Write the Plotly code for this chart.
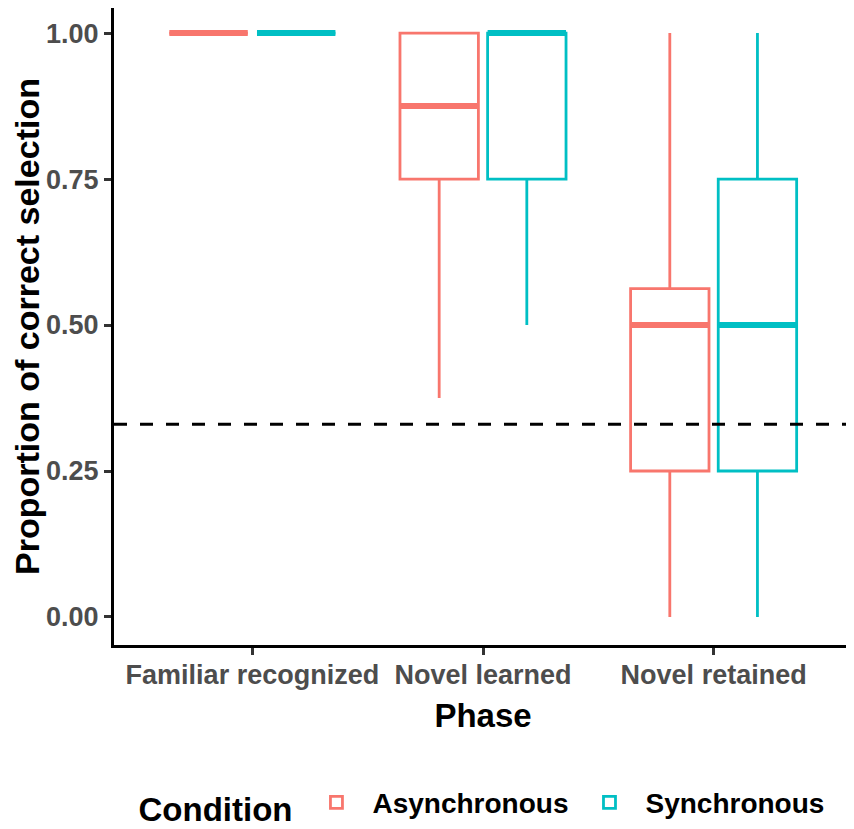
import plotly.graph_objects as go

# Summary statistics
phases = ["Familiar recognized", "Novel learned", "Novel retained"]
conditions = ["Asynchronous", "Synchronous"]
colors = {"Asynchronous": "#F8766D", "Synchronous": "#00BFC4"}

lower = {"Asynchronous": [1.0, 0.375, 0.0], "Synchronous": [1.0, 0.5, 0.0]}
q1 = {"Asynchronous": [1.0, 0.75, 0.25], "Synchronous": [1.0, 0.75, 0.25]}
median = {"Asynchronous": [1.0, 0.875, 0.5], "Synchronous": [1.0, 1.0, 0.5]}
q3 = {"Asynchronous": [1.0, 1.0, 0.5625], "Synchronous": [1.0, 1.0, 0.75]}
upper = {"Asynchronous": [1.0, 1.0, 1.0], "Synchronous": [1.0, 1.0, 1.0]}

chance = 0.33

offsets = {"Asynchronous": -0.19, "Synchronous": 0.19}
box_w = 0.34

fig = go.Figure()

for cond in conditions:
    xs = [i + offsets[cond] for i in range(len(phases))]
    fig.add_trace(go.Box(
        x=xs,
        q1=q1[cond], median=median[cond], q3=q3[cond],
        lowerfence=lower[cond], upperfence=upper[cond],
        width=box_w,
        whiskerwidth=0,
        line=dict(color=colors[cond], width=2.8),
        fillcolor="rgba(255,255,255,0)",
        name=cond,
        legendgroup=cond,
        hoverinfo="skip",
    ))
    # thicker median bars like ggplot
    mx, my = [], []
    for x, m in zip(xs, median[cond]):
        mx += [x - box_w / 2, x + box_w / 2, None]
        my += [m, m, None]
    fig.add_trace(go.Scatter(
        x=mx, y=my, mode="lines",
        line=dict(color=colors[cond], width=6),
        legendgroup=cond, showlegend=False, hoverinfo="skip",
    ))

fig.add_hline(y=chance, line=dict(color="black", width=3, dash="13px,13px"))

fig.update_layout(
    width=854, height=829,
    margin=dict(l=106, r=10, t=0, b=192),
    plot_bgcolor="white", paper_bgcolor="white",
    font=dict(family="Liberation Sans, Arial, sans-serif"),
    showlegend=True,
    legend=dict(
        orientation="h", x=0.5, xanchor="center", y=-0.25, yanchor="middle",
        title=dict(text="<b>Condition</b>", font=dict(size=33, color="black"), side="left"),
        font=dict(size=28, color="black", weight="bold"),
        itemwidth=62,
    ),
)

fig.update_xaxes(
    range=[-0.6, 2.6],
    tickvals=list(range(len(phases))), ticktext=phases,
    showline=True, linecolor="black", linewidth=3,
    ticks="outside", ticklen=7, tickwidth=2.5, tickcolor="#333333",
    tickfont=dict(size=27, color="#4D4D4D", weight="bold"),
    ticklabelstandoff=-3,
    showgrid=False, zeroline=False, automargin=False,
    title=dict(text="<b>Phase</b>", font=dict(size=33, color="black")),
)
fig.update_yaxes(
    range=[-0.048, 1.043],
    tickvals=[0, 0.25, 0.5, 0.75, 1.0], tickformat=".2f",
    showline=True, linecolor="black", linewidth=3,
    ticks="outside", ticklen=7, tickwidth=2.5, tickcolor="#333333",
    tickfont=dict(size=27, color="#4D4D4D", weight="bold"),
    showgrid=False, zeroline=False, automargin=False,
    title=dict(text="<b>Proportion of correct selection</b>", font=dict(size=34, color="black")),
)

fig.write_html("out.html")
